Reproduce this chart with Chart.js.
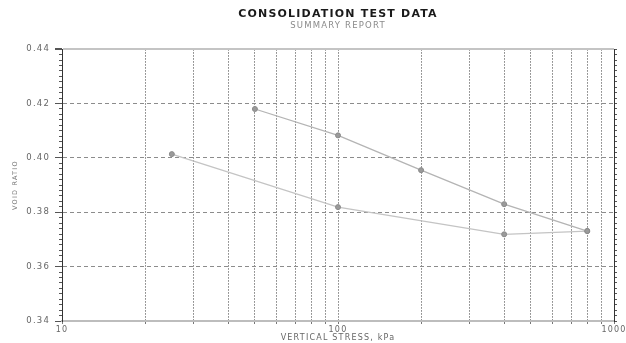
<!DOCTYPE html>
<html>
<head>
<meta charset="utf-8">
<title>Consolidation Test Data</title>
<script src="https://cdn.jsdelivr.net/npm/chart.js@4/dist/chart.umd.min.js"></script>
<style>
  html, body { margin: 0; padding: 0; background: #fff; }
</style>
</head>
<body>
<canvas id="chart" width="626" height="343"></canvas>
<script>
// loading branch (kPa, void ratio)
const loadStress = [50, 100, 200, 400, 800];
const loadVoid = [0.418, 0.4083, 0.3955, 0.383, 0.3731];

// unloading branch, back from the last load step
const unloadStress = [800, 400, 100, 25];
const unloadVoid = [0.3731, 0.3719, 0.3819, 0.4014];

// log axis: grid at every 1..9 x 10^n, labels only on the decades
const stressTicks = [10, 20, 30, 40, 50, 60, 70, 80, 90, 100, 200, 300, 400, 500, 600, 700, 800, 900, 1000];
const stressLabels = [10, 100, 1000];

const ratioTicks = [0.34, 0.36, 0.38, 0.40, 0.42, 0.44];

// small ticks every 0.002 on both side axes
const minorTicks = [];
for (let i = 0; i <= 50; i++) minorTicks.push(Math.round((0.34 + i * 0.002) * 1000) / 1000);

const FONT = "'DejaVu Sans', sans-serif";

function pairs(xs, ys) {
  return xs.map((x, i) => ({ x: x, y: ys[i] }));
}

const spacing = {
  id: "spacing",
  beforeDraw(chart) {
    chart.ctx.letterSpacing = "1.2px";
  },
};

new Chart(document.getElementById("chart"), {
  type: "line",
  data: {
    datasets: [
      {
        data: pairs(loadStress, loadVoid),
        borderColor: "#b4b4b4",
        borderWidth: 1.3,
        pointRadius: 2.5,
        pointBackgroundColor: "#9a9a9a",
        pointBorderColor: "#8a8a8a",
        pointBorderWidth: 1,
      },
      {
        data: pairs(unloadStress, unloadVoid),
        borderColor: "#c4c4c4",
        borderWidth: 1.3,
        pointRadius: 2.5,
        pointBackgroundColor: "#9a9a9a",
        pointBorderColor: "#8a8a8a",
        pointBorderWidth: 1,
      },
    ],
  },
  plugins: [spacing],
  options: {
    responsive: false,
    animation: false,
    layout: { padding: 0 },
    plugins: {
      legend: { display: false },
      tooltip: { enabled: false },
      title: {
        display: true,
        text: "CONSOLIDATION TEST DATA",
        fullSize: false,
        color: "#1a1a1a",
        font: { family: FONT, size: 11, weight: "bold", lineHeight: 1.2 },
        padding: { top: 8, bottom: 0 },
      },
      subtitle: {
        display: true,
        text: "SUMMARY REPORT",
        fullSize: false,
        color: "#8a8a8a",
        font: { family: FONT, size: 8.5, lineHeight: 1 },
        padding: { top: 0, bottom: 19.5 },
      },
    },
    scales: {
      x: {
        type: "logarithmic",
        min: 10,
        max: 1000,
        afterBuildTicks: (s) => {
          s.ticks = stressTicks.map((v) => ({ value: v }));
        },
        afterFit: (s) => {
          s.height = 22;
          s.paddingLeft = 0;
          s.paddingRight = 0;
        },
        ticks: {
          autoSkip: false,
          maxRotation: 0,
          padding: 1,
          color: "#666",
          font: { family: FONT, size: 8 },
          callback: (v) => (stressLabels.includes(v) ? String(v) : ""),
        },
        grid: {
          color: "#7a7a7a",
          lineWidth: 1,
          tickLength: 3,
          tickColor: "#777",
        },
        border: { color: "#bdbdbd", width: 2, dash: [1.5, 1.5] },
        title: {
          display: true,
          text: "VERTICAL STRESS, kPa",
          color: "#666",
          font: { family: FONT, size: 8 },
          padding: 0,
        },
      },
      y: {
        min: 0.34,
        max: 0.44,
        weight: 2,
        afterBuildTicks: (s) => {
          s.ticks = ratioTicks.map((v) => ({ value: v }));
        },
        afterFit: (s) => {
          s.width = 62;
          s.paddingTop = 0;
          s.paddingBottom = 0;
        },
        ticks: {
          padding: 5,
          color: "#666",
          font: { family: FONT, size: 8.5 },
          callback: (v) => v.toFixed(2),
        },
        grid: {
          color: (c) => (c.tick.value === 0.44 ? "#c4c4c4" : "#8c8c8c"),
          lineWidth: (c) => (c.tick.value === 0.44 ? 2 : 1),
          tickLength: 7,
          tickColor: "#555",
        },
        border: {
          color: "#333",
          width: 1,
          dash: (c) => (c.tick && c.tick.value === 0.44 ? [] : [4, 3]),
        },
        title: {
          display: true,
          text: "VOID RATIO",
          color: "#777",
          font: { family: FONT, size: 6.5 },
          padding: { top: 11 },
        },
      },
      yMinor: {
        position: "left",
        min: 0.34,
        max: 0.44,
        weight: 1,
        afterBuildTicks: (s) => {
          s.ticks = minorTicks.map((v) => ({ value: v }));
        },
        afterFit: (s) => {
          s.width = 0;
          s.paddingTop = 0;
          s.paddingBottom = 0;
        },
        ticks: { display: false },
        grid: { drawOnChartArea: false, tickLength: 3, tickColor: "#555" },
        border: { display: false },
      },
      yRight: {
        position: "right",
        min: 0.34,
        max: 0.44,
        afterBuildTicks: (s) => {
          s.ticks = minorTicks.map((v) => ({ value: v }));
        },
        afterFit: (s) => {
          s.width = 12;
          s.paddingTop = 0;
          s.paddingBottom = 0;
        },
        ticks: { display: false },
        grid: { drawOnChartArea: false, tickLength: 3, tickColor: "#555" },
        border: { color: "#333", width: 1 },
      },
    },
  },
});
</script>
</body>
</html>
